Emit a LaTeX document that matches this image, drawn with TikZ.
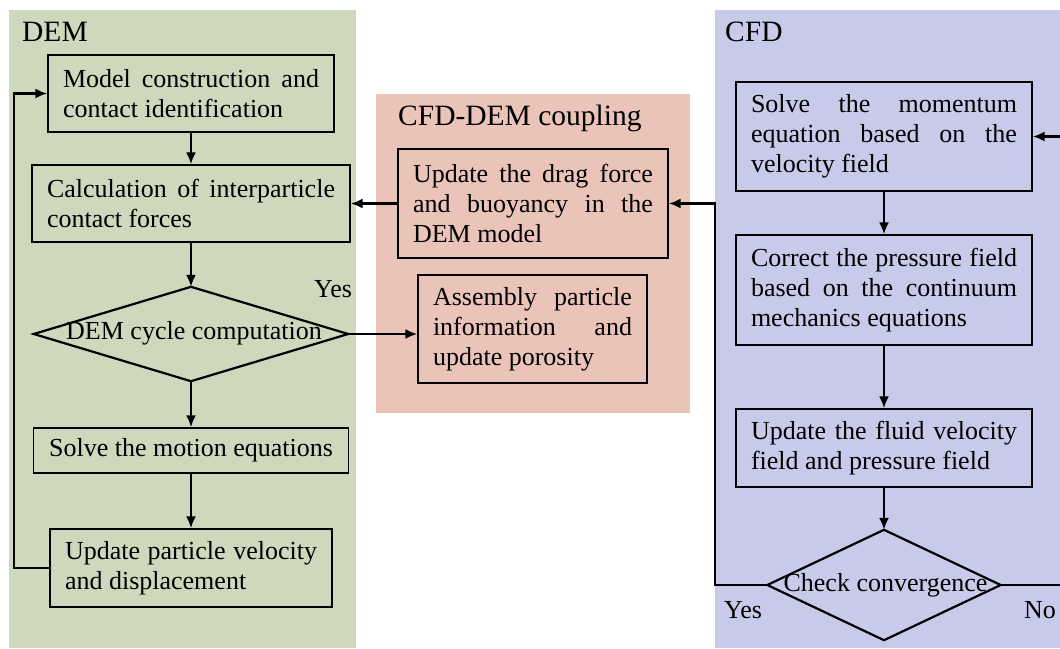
\documentclass[tikz,border=0pt]{standalone}
\usepackage{fontspec}
\setmainfont{Liberation Serif}
\usetikzlibrary{arrows.meta,calc}
\definecolor{demgreen}{RGB}{206,216,188}
\definecolor{cplpink}{RGB}{234,196,184}
\definecolor{cfdblue}{RGB}{200,202,234}
\tikzset{
  flowbox/.style={draw=black, line width=1.4pt, inner xsep=15pt, inner ysep=2pt,
    align=justify, font=\fontsize{26}{30}\selectfont},
  ctrbox/.style={draw=black, line width=1.4pt, inner sep=0pt, align=center,
    font=\fontsize{26}{30}\selectfont},
  decframe/.style={draw=none, fill=none, rectangle, inner sep=0pt},
  decline/.style={draw=black, line width=2.2pt, line join=miter},
  conn/.style={draw=black, line width=2.2pt, -{Latex[length=12pt,width=10pt]}},
  lbl/.style={font=\fontsize{26}{30}\selectfont, inner sep=0pt},
  ttl/.style={font=\fontsize{29.5}{34}\selectfont, inner sep=0pt},
}
\begin{document}
\begin{tikzpicture}[x=1pt,y=-1pt]
\useasboundingbox (0,0) rectangle (1060,648);
\clip (0,0) rectangle (1060,648);
\fill[white] (0,0) rectangle (1060,648);
% panels
\fill[demgreen] (9,10) rectangle (356,648);
\fill[cplpink] (376,94) rectangle (690,413);
\fill[cfdblue] (715,10) rectangle (1070,648);
% titles
\node[ttl, anchor=base west] (tdem) at (22,41) {DEM};
\node[ttl, anchor=base west] (tcfd) at (725,41) {CFD};
\node[ttl, anchor=base west] (tcpl) at (398,125) {CFD-DEM coupling};
% DEM boxes
\node[flowbox, text width=256pt, minimum width=286pt, minimum height=77pt] (model) at (191,93.5)
  {\hyphenpenalty=10000 Model construction and\linebreak contact identification};
\node[flowbox, text width=288pt, minimum width=318pt, minimum height=77pt] (calc) at (191,203.5)
  {\hyphenpenalty=10000 Calculation of interparticle\linebreak contact forces};
\node[decframe, minimum width=314pt, minimum height=94pt] (dcyc) at (191,334) {};
\draw[decline] (dcyc.north) -- (dcyc.east) -- (dcyc.south) -- (dcyc.west) -- cycle;
\node[lbl] (dcyctxt) at (194,333) {DEM cycle computation};
\node[ctrbox, minimum width=315pt, minimum height=45pt] (motion) at (191,450.5)
  {Solve the motion equations};
\node[flowbox, text width=252pt, minimum width=282pt, minimum height=78pt] (upd) at (191,568)
  {\hyphenpenalty=10000 Update particle velocity\linebreak and displacement};
% coupling boxes
\node[flowbox, text width=240pt, minimum width=270pt, minimum height=109pt] (drag) at (533,203.5)
  {\hyphenpenalty=10000 Update the drag force\linebreak and buoyancy in the\linebreak DEM model};
\node[flowbox, text width=199pt, minimum width=229pt, minimum height=108pt] (asm) at (532.5,329)
  {\hyphenpenalty=10000 Assembly particle\linebreak information and\linebreak update porosity};
% CFD boxes
\node[flowbox, text width=266pt, minimum width=296pt, minimum height=109pt] (mom) at (884,136.5)
  {\hyphenpenalty=10000 Solve the momentum\linebreak equation based on the\linebreak velocity field};
\node[flowbox, text width=266pt, minimum width=296pt, minimum height=110pt] (corr) at (884,290)
  {\hyphenpenalty=10000 Correct the pressure field\linebreak based on the continuum\linebreak mechanics equations};
\node[flowbox, text width=266pt, minimum width=296pt, minimum height=78pt] (fluid) at (884,448)
  {\hyphenpenalty=10000 Update the fluid velocity\linebreak field and pressure field};
\node[decframe, minimum width=233pt, minimum height=110pt] (chk) at (884,585) {};
\draw[decline] (chk.north) -- (chk.east) -- (chk.south) -- (chk.west) -- cycle;
\node[lbl] (chktxt) at (885.5,585) {Check convergence};
% labels
\node[lbl, anchor=base] (yes1) at (333,297) {Yes};
\node[lbl, anchor=base] (yes2) at (743,618) {Yes};
\node[lbl, anchor=base] (no) at (1040,618) {No};
% connectors
\draw[conn] (model.south) -- (calc.north);
\draw[conn] (calc.south) -- (dcyc.north);
\draw[conn] (dcyc.south) -- (motion.north);
\draw[conn] (motion.south) -- (upd.north);
\draw[conn] (upd.west) -- ++(-35,0) |- (model.west);
\draw[conn] (dcyc.east) -- (dcyc.east -| asm.west);
\draw[conn] (drag.west) -- (calc.east);
\draw[conn] (mom.south) -- (corr.north);
\draw[conn] (corr.south) -- (fluid.north);
\draw[conn] (fluid.south) -- (chk.north);
\draw[conn] (chk.west) -- ++(-52,0) |- (drag.east);
\coordinate (rightrail) at (1066,0);
\draw[conn] (chk.east) -- (chk.east -| rightrail) |- (mom.east);
\end{tikzpicture}
\end{document}
